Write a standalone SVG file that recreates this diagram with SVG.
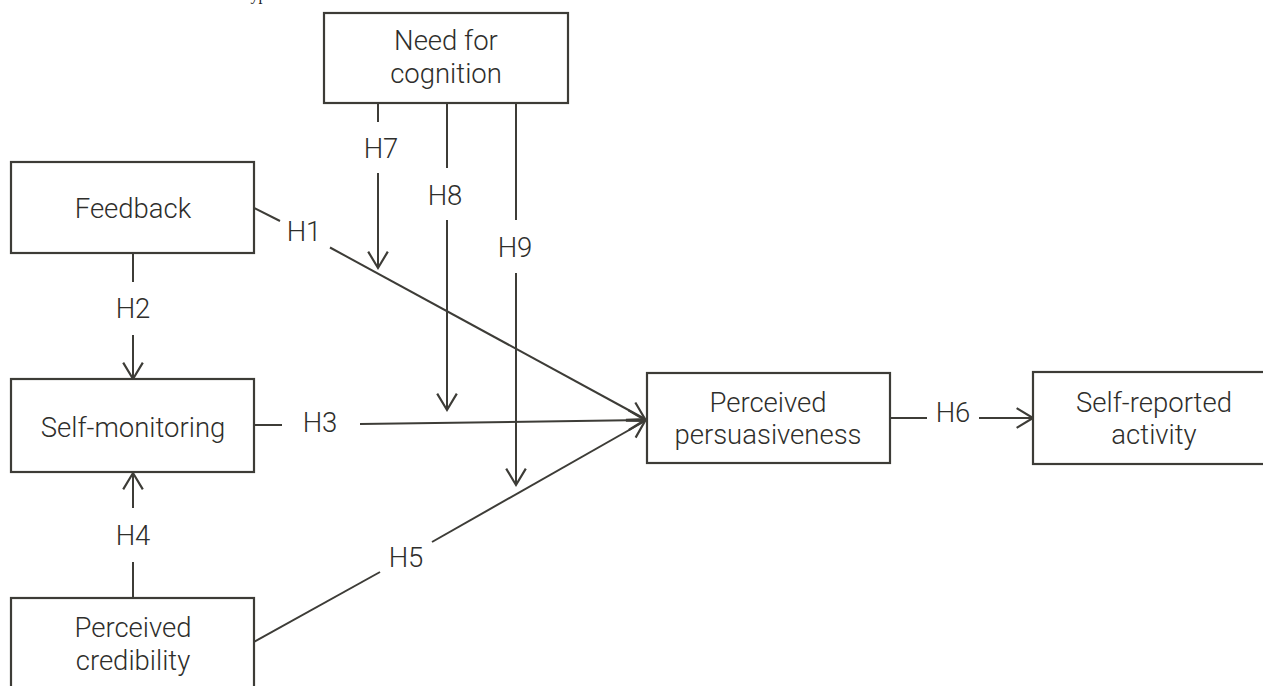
<svg xmlns="http://www.w3.org/2000/svg" width="1263" height="686" viewBox="0 0 1263 686">
<style>
.box{fill:#fff;stroke:#3d3c37;stroke-width:2.2}
.t{font-family:Roboto,"Liberation Sans",sans-serif;font-size:27.5px;font-weight:300;fill:#2e2e2b;text-anchor:middle}
.c{fill:none;stroke:#3d3c37;stroke-width:2}
.cap{font-family:"Liberation Serif",serif;font-size:16px;fill:#222}
</style>
<defs>
<marker id="ah" markerUnits="userSpaceOnUse" markerWidth="24" markerHeight="24" refX="0" refY="0" viewBox="-17 -11 20 22" orient="auto" overflow="visible">
<path d="M-15,-9 L0,0 L-15,9" fill="none" stroke="#3d3c37" stroke-width="2"/>
</marker>
</defs>
<rect width="1263" height="686" fill="#fff"/>
<text class="cap" x="239" y="0">Hypotheses</text>
<g id="connectors">
<line class="c" x1="378" y1="103" x2="378" y2="122"/>
<line class="c" x1="378" y1="173" x2="378" y2="268" marker-end="url(#ah)"/>
<line class="c" x1="447" y1="103" x2="447" y2="168"/>
<line class="c" x1="447" y1="220" x2="447" y2="410" marker-end="url(#ah)"/>
<line class="c" x1="516" y1="103" x2="516" y2="220"/>
<line class="c" x1="516" y1="273" x2="516" y2="485" marker-end="url(#ah)"/>
<line class="c" x1="254" y1="208" x2="280" y2="221"/>
<line class="c" x1="330" y1="247.5" x2="645" y2="419" marker-end="url(#ah)"/>
<line class="c" x1="254" y1="425" x2="282" y2="425"/>
<line class="c" x1="360" y1="424" x2="645" y2="420" marker-end="url(#ah)"/>
<line class="c" x1="254" y1="642" x2="380" y2="572"/>
<line class="c" x1="432" y1="542" x2="645" y2="421" marker-end="url(#ah)"/>
<line class="c" x1="133" y1="253" x2="133" y2="282"/>
<line class="c" x1="133" y1="335" x2="133" y2="379" marker-end="url(#ah)"/>
<line class="c" x1="133" y1="598" x2="133" y2="562"/>
<line class="c" x1="133" y1="508" x2="133" y2="473" marker-end="url(#ah)"/>
<line class="c" x1="890" y1="418" x2="927" y2="418"/>
<line class="c" x1="979" y1="418" x2="1033" y2="418" marker-end="url(#ah)"/>
<text class="t" x="381" y="158">H7</text>
<text class="t" x="445" y="205">H8</text>
<text class="t" x="515" y="257">H9</text>
<text class="t" x="304" y="241">H1</text>
<text class="t" x="133" y="318">H2</text>
<text class="t" x="320" y="432">H3</text>
<text class="t" x="133" y="545">H4</text>
<text class="t" x="406" y="567">H5</text>
<text class="t" x="953" y="422">H6</text>
</g>
<g id="need-for-cognition">
<rect class="box" x="324" y="13" width="244" height="90"/>
<text class="t" x="446" y="50">Need for</text>
<text class="t" x="446" y="83">cognition</text>
</g>
<g id="feedback">
<rect class="box" x="11" y="162" width="243" height="91"/>
<text class="t" x="133" y="218">Feedback</text>
</g>
<g id="self-monitoring">
<rect class="box" x="11" y="379" width="243" height="93"/>
<text class="t" x="133" y="437">Self-monitoring</text>
</g>
<g id="perceived-credibility">
<rect class="box" x="11" y="598" width="243" height="110"/>
<text class="t" x="133" y="637">Perceived</text>
<text class="t" x="133" y="670">credibility</text>
</g>
<g id="perceived-persuasiveness">
<rect class="box" x="647" y="373" width="243" height="90"/>
<text class="t" x="768" y="412">Perceived</text>
<text class="t" x="768" y="444">persuasiveness</text>
</g>
<g id="self-reported-activity">
<rect class="box" x="1033" y="372" width="243" height="92"/>
<text class="t" x="1154" y="412">Self-reported</text>
<text class="t" x="1154" y="444">activity</text>
</g>
</svg>
